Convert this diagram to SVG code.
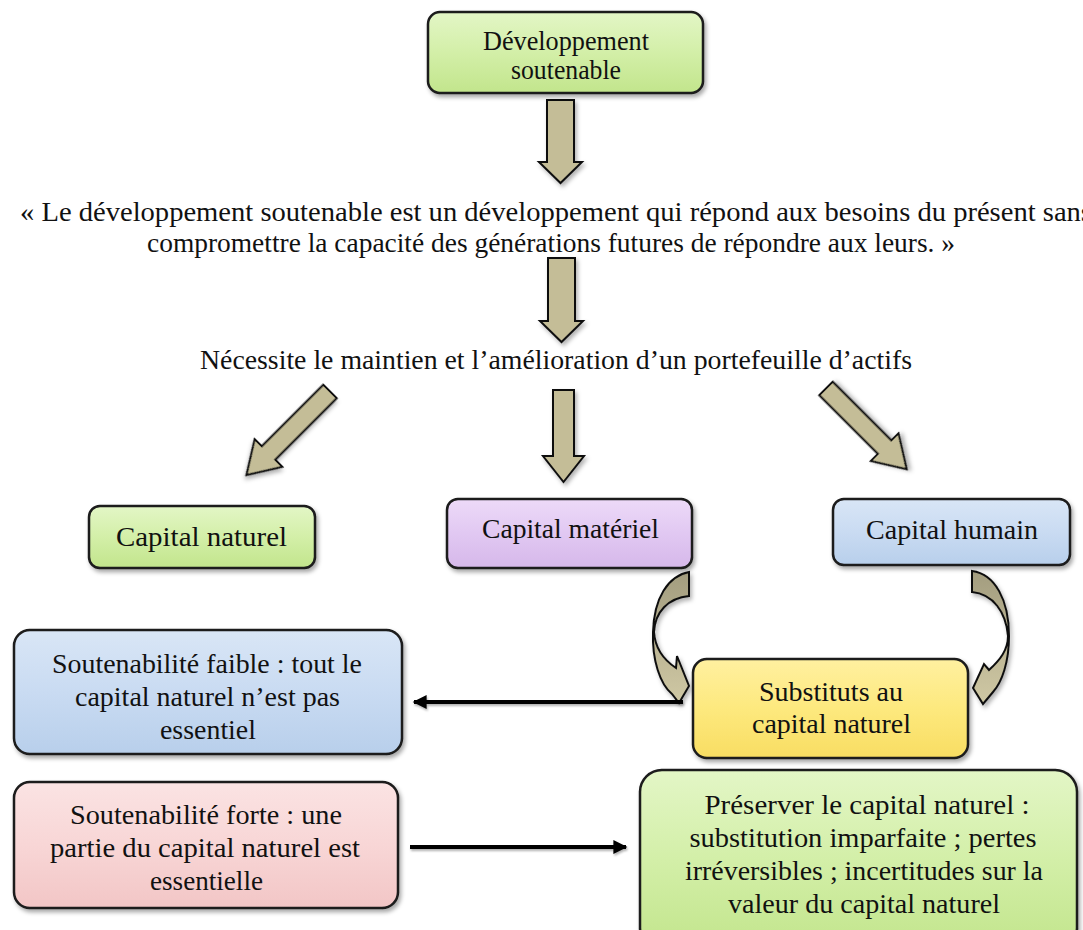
<svg xmlns="http://www.w3.org/2000/svg" width="1083" height="930" viewBox="0 0 1083 930">
<style>
.t{font-family:"Liberation Serif","Times New Roman",serif;font-size:27px;fill:#111;}
.c{text-anchor:middle;}
.box{stroke:#1a1a1a;stroke-width:2.5;filter:url(#sh);}
.blk{fill:#c4bd97;stroke:#111;stroke-width:2;stroke-linejoin:miter;filter:url(#sh2);}
.crv{stroke:#111;stroke-width:2;filter:url(#sh2);}
.ln{stroke:#000;stroke-width:4;fill:none;filter:url(#sh3);}
</style>
<defs>
<filter id="sh" x="-10%" y="-10%" width="125%" height="130%">
<feDropShadow dx="2" dy="3" stdDeviation="2" flood-color="#000" flood-opacity="0.35"/>
</filter>
<filter id="sh2" x="-20%" y="-20%" width="150%" height="150%">
<feDropShadow dx="2" dy="3" stdDeviation="2" flood-color="#000" flood-opacity="0.3"/>
</filter>
<filter id="sh3" filterUnits="userSpaceOnUse" x="0" y="0" width="1083" height="930">
<feDropShadow dx="1" dy="2" stdDeviation="1.2" flood-color="#000" flood-opacity="0.3"/>
</filter>
<linearGradient id="gG" x1="0" y1="0" x2="0" y2="1"><stop offset="0" stop-color="#e3f6c6"/><stop offset="0.5" stop-color="#d3efa8"/><stop offset="1" stop-color="#c2e58c"/></linearGradient>
<linearGradient id="gP" x1="0" y1="0" x2="0" y2="1"><stop offset="0" stop-color="#eddaf8"/><stop offset="0.5" stop-color="#e1c8f2"/><stop offset="1" stop-color="#d6b8ea"/></linearGradient>
<linearGradient id="gB" x1="0" y1="0" x2="0" y2="1"><stop offset="0" stop-color="#d9e6f6"/><stop offset="0.5" stop-color="#c9dbf2"/><stop offset="1" stop-color="#b8cfeb"/></linearGradient>
<linearGradient id="gY" x1="0" y1="0" x2="0" y2="1"><stop offset="0" stop-color="#fff0a0"/><stop offset="0.5" stop-color="#fde97e"/><stop offset="1" stop-color="#f8dd62"/></linearGradient>
<linearGradient id="gR" x1="0" y1="0" x2="0" y2="1"><stop offset="0" stop-color="#fbe3e3"/><stop offset="0.5" stop-color="#f8d6d6"/><stop offset="1" stop-color="#f2c6c6"/></linearGradient>
<linearGradient id="gC" x1="0" y1="0" x2="0" y2="1"><stop offset="0" stop-color="#a39d7f"/><stop offset="0.5" stop-color="#bab392"/><stop offset="1" stop-color="#cfc8a4"/></linearGradient>
<marker id="ah" viewBox="0 0 10 10" refX="9" refY="5" markerWidth="4" markerHeight="3.5" orient="auto-start-reverse" markerUnits="strokeWidth">
<path d="M0,0 L10,5 L0,10 Z" fill="#000"/>
</marker>
</defs>

<g id="connectors">
<polygon class="blk" points="547,100 574,100 574,162 582,162 560.5,183 539,162 547,162"/>
<polygon class="blk" points="548,258 575,258 575,321 583,321 561.5,342 540,321 548,321"/>
<polygon class="blk" points="553,390 574,390 574,456 584,456 563.5,482 543,456 553,456"/>
<polygon class="blk" transform="translate(330,391.5) rotate(45)" points="-9.5,0 9.5,0 9.5,87 19.5,87 0,118 -19.5,87 -9.5,87"/>
<polygon class="blk" transform="translate(826,388.5) rotate(-45)" points="-9.5,0 9.5,0 9.5,83 19.5,83 0,114 -19.5,83 -9.5,83"/>
<path class="crv" fill="url(#gC)" d="M689,572 L689,596 C668,598 655,612 654,632 C655,648 664,660 676,668 L677,656 L689,686 L679,703 L672,694 C660,684 652,660 653,632 C654,598 668,576 689,572 Z"/>
<path class="crv" fill="url(#gC)" d="M972,571 C995,574 1009,600 1009,636 C1009,662 1002,682 993,692 L983,704 L973,688 L984,664 L989,670 C1000,660 1008,650 1008,636 C1006,612 993,594 972,592 Z"/>
<line class="ln" x1="683" y1="702" x2="414" y2="702" marker-end="url(#ah)"/>
<line class="ln" x1="410" y1="847" x2="626" y2="847" marker-end="url(#ah)"/>
</g>

<g id="n-dev">
<rect class="box" x="428" y="12" width="275" height="81" rx="12" fill="url(#gG)"/>
<text class="t c" x="566" y="50" textLength="166" lengthAdjust="spacingAndGlyphs">Développement</text>
<text class="t c" x="566" y="79" textLength="110" lengthAdjust="spacingAndGlyphs">soutenable</text>
</g>

<g id="n-quote">
<text class="t" x="20" y="221" textLength="1072" lengthAdjust="spacingAndGlyphs">« Le développement soutenable est un développement qui répond aux besoins du présent sans</text>
<text class="t c" x="551" y="252" textLength="808" lengthAdjust="spacingAndGlyphs">compromettre la capacité des générations futures de répondre aux leurs. »</text>
</g>

<g id="n-necessite">
<text class="t c" x="556" y="369" textLength="712" lengthAdjust="spacingAndGlyphs">Nécessite le maintien et l’amélioration d’un portefeuille d’actifs</text>
</g>

<g id="n-naturel">
<rect class="box" x="89" y="506" width="226" height="62" rx="11" fill="url(#gG)"/>
<text class="t c" x="201.5" y="546" textLength="171" lengthAdjust="spacingAndGlyphs">Capital naturel</text>
</g>

<g id="n-materiel">
<rect class="box" x="447" y="499" width="245" height="69" rx="11" fill="url(#gP)"/>
<text class="t c" x="570.5" y="538" textLength="177" lengthAdjust="spacingAndGlyphs">Capital matériel</text>
</g>

<g id="n-humain">
<rect class="box" x="833" y="499" width="237" height="66" rx="11" fill="url(#gB)"/>
<text class="t c" x="952" y="539" textLength="172" lengthAdjust="spacingAndGlyphs">Capital humain</text>
</g>

<g id="n-substituts">
<rect class="box" x="693" y="659" width="275" height="99" rx="14" fill="url(#gY)"/>
<text class="t c" x="831" y="701" textLength="144" lengthAdjust="spacingAndGlyphs">Substituts au</text>
<text class="t c" x="831.5" y="733" textLength="159" lengthAdjust="spacingAndGlyphs">capital naturel</text>
</g>

<g id="n-faible">
<rect class="box" x="14" y="630" width="388" height="124" rx="16" fill="url(#gB)"/>
<text class="t c" x="207" y="673" textLength="310" lengthAdjust="spacingAndGlyphs">Soutenabilité faible : tout le</text>
<text class="t c" x="207.5" y="706" textLength="265" lengthAdjust="spacingAndGlyphs">capital naturel n’est pas</text>
<text class="t c" x="208" y="739" textLength="96" lengthAdjust="spacingAndGlyphs">essentiel</text>
</g>

<g id="n-forte">
<rect class="box" x="14" y="782" width="384" height="126" rx="16" fill="url(#gR)"/>
<text class="t c" x="206" y="824" textLength="272" lengthAdjust="spacingAndGlyphs">Soutenabilité forte : une</text>
<text class="t c" x="205" y="857" textLength="310" lengthAdjust="spacingAndGlyphs">partie du capital naturel est</text>
<text class="t c" x="206.5" y="890" textLength="113" lengthAdjust="spacingAndGlyphs">essentielle</text>
</g>

<g id="n-preserver">
<rect class="box" x="640" y="770" width="437" height="180" rx="22" fill="url(#gG)"/>
<text class="t c" x="867" y="814" textLength="325" lengthAdjust="spacingAndGlyphs">Préserver le capital naturel :</text>
<text class="t c" x="863" y="847" textLength="347" lengthAdjust="spacingAndGlyphs">substitution imparfaite ; pertes</text>
<text class="t c" x="864" y="880" textLength="358" lengthAdjust="spacingAndGlyphs">irréversibles ; incertitudes sur la</text>
<text class="t c" x="864" y="913" textLength="272" lengthAdjust="spacingAndGlyphs">valeur du capital naturel</text>
</g>
</svg>
